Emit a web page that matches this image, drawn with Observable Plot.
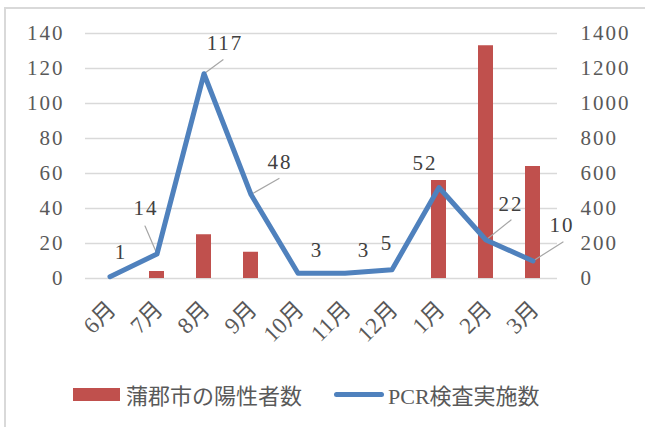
<!DOCTYPE html>
<html>
<head>
<meta charset="utf-8">
<script src="https://cdn.jsdelivr.net/npm/d3@7"></script>
<script src="https://cdn.jsdelivr.net/npm/@observablehq/plot@0.6"></script>
<style>
  html, body { margin: 0; padding: 0; background: #fff; }
  #wrap { position: relative; width: 645px; height: 427px; overflow: hidden;
          font-family: "Liberation Serif", "Noto Sans CJK JP", serif; }
  #frame { position: absolute; left: 4px; top: 7px; width: 700px; height: 500px;
           border-left: 2px solid #d9d9d9; border-top: 2px solid #d9d9d9; }
  #chart { position: absolute; left: 0; top: 0; }
  #legend { position: absolute; left: 73px; top: 378px; display: flex; align-items: center;
            font-size: 22px; color: #595959; white-space: nowrap; }
  .sw { display: inline-block; }
</style>
</head>
<body>
<div id="wrap">
  <div id="frame"></div>
  <div id="chart"></div>
  <div id="legend"></div>
</div>
<script>
const months = ["6月","7月","8月","9月","10月","11月","12月","1月","2月","3月"];
const positives = [0, 4, 25, 15, 0, 0, 0, 56, 133, 64];      // 蒲郡市の陽性者数 (left axis)
const pcrTests = [10, 140, 1170, 480, 30, 30, 50, 520, 220, 100]; // PCR検査実施数 (right axis)
const pointLabels = ["1","14","117","48","3","3","5","52","22","10"];
const leftTicks = [0, 20, 40, 60, 80, 100, 120, 140];
const rightTicks = [0, 200, 400, 600, 800, 1000, 1200, 1400];
const seriesNames = ["蒲郡市の陽性者数", "PCR検査実施数"];

// label placement (pixel offsets from the line point) and leader lines
const labelOffset = [[10,-24],[-12,-46],[20,-30],[28,-32],[18,-23],[18,-23],[-6,-26],[-15,-24],[24,-36],[28,-36]];
const leaderEnd = [null,[-12,-28],[19,-14],[28,-16],null,null,null,null,[25,-20],[30,-19]];

const red = "#c0504d", blue = "#4f81bd", textCol = "#595959", labelCol = "#404040";
const ratio = rightTicks[rightTicks.length-1] / leftTicks[leftTicks.length-1];

const rows = months.map((m, i) => ({
  month: m, pos: positives[i], pcr: pcrTests[i] / ratio, label: pointLabels[i], i
}));

const leaders = rows.filter(r => leaderEnd[r.i]).map(r => {
  const [dx, dy] = leaderEnd[r.i];
  return {...r, len: Math.hypot(dx, dy), rot: Math.atan2(dx, -dy) * 180 / Math.PI};
});

const font = '"Liberation Serif", "Noto Sans CJK JP", serif';

const labelMarks = rows.map(r => Plot.text([r], {
  x: "month", y: "pcr", text: "label",
  dx: labelOffset[r.i][0] + 1, dy: labelOffset[r.i][1],
  fill: labelCol, fontSize: 21
}));

const chart = Plot.plot({
  width: 645, height: 370,
  marginLeft: 85, marginRight: 88, marginTop: 33, marginBottom: 92,
  style: { background: "transparent", overflow: "visible", fontFamily: font },
  x: { domain: months, paddingInner: 0.68, paddingOuter: 0.34, label: null },
  y: { domain: [0, 140], label: null },
  length: { type: "identity" },
  marks: [
    Plot.gridY(leftTicks, { stroke: "#d9d9d9", strokeOpacity: 1, strokeWidth: 1.3 }),
    Plot.axisY(leftTicks, { anchor: "left", tickSize: 0, tickPadding: 21, fill: textCol, label: null }),
    Plot.axisY(leftTicks, { anchor: "right", tickSize: 0, tickPadding: 23, fill: textCol, label: null,
      tickFormat: d => String(rightTicks[leftTicks.indexOf(d)]) }),
    Plot.axisX({ tickSize: 0, tickRotate: -45, tickPadding: 27, dx: 2, fill: textCol, label: null }),
    Plot.barY(rows.filter(r => r.pos > 0), { x: "month", y: "pos", fill: red }),
    Plot.vector(leaders, {
      x: "month", y: "pcr", length: "len", rotate: "rot", anchor: "start",
      stroke: "#a6a6a6", strokeWidth: 1.2,
      shape: { draw(ctx, l) { ctx.moveTo(0, 0); ctx.lineTo(0, -l); } }
    }),
    Plot.line(rows, { x: "month", y: "pcr", stroke: blue, strokeWidth: 5, strokeLinejoin: "round", strokeLinecap: "round" }),
    ...labelMarks
  ]
});
// typography: serif digits, widened slightly to match the reference face
d3.select(chart).selectAll("g[aria-label='y-axis tick label'] text, g[aria-label='text'] text")
  .style("font-family", font).style("font-size", "21px").style("letter-spacing", "2px");
d3.select(chart).selectAll("g[aria-label='x-axis tick label'] text")
  .style("font-family", font).style("font-size", "23px");
document.getElementById("chart").appendChild(chart);

const legend = document.getElementById("legend");
legend.innerHTML =
  `<span class="sw" style="width:47px;height:13px;background:${red};margin-right:6px"></span>` +
  `<span>${seriesNames[0]}</span>` +
  `<span class="sw" style="width:50px;height:5px;border-radius:3px;background:${blue};margin-left:32px;margin-right:4px"></span>` +
  `<span>${seriesNames[1]}</span>`;
</script>
</body>
</html>
